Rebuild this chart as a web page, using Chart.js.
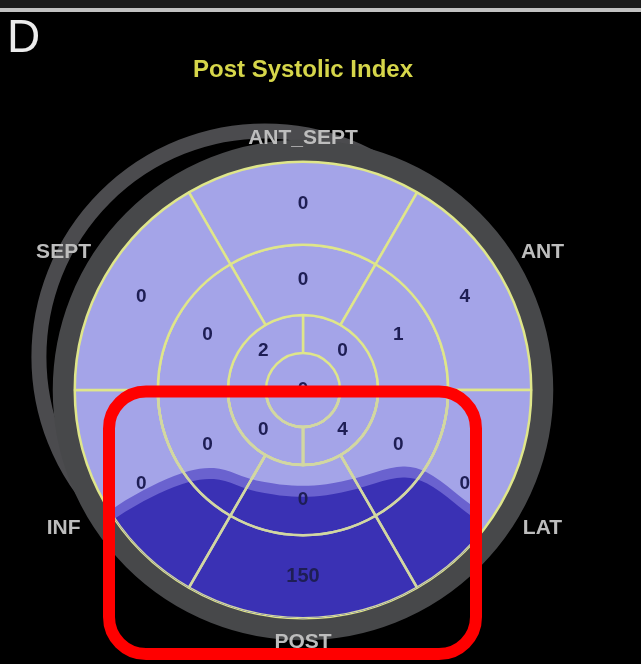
<!DOCTYPE html>
<html>
<head>
<meta charset="utf-8">
<script src="https://cdn.jsdelivr.net/npm/chart.js@4.4.0/dist/chart.umd.min.js"></script>
<style>
  html, body { margin: 0; padding: 0; background: #000; }
</style>
</head>
<body>
<canvas id="bullseye" width="641" height="664"></canvas>
<script>
// wall names, clockwise from 12 o'clock
const wallLabels = ['ANT_SEPT', 'ANT', 'LAT', 'POST', 'INF', 'SEPT'];
// post systolic index per segment
const basalValues = [0, 4, 0, 150, 0, 0];
const midValues = [0, 1, 0, 0, 0, 0];
const apicalValues = [0, 4, 0, 2];   // starts at 12 o'clock, clockwise
const apexValues = [0];

const LAVENDER = '#a4a4e8';
const DARK_BLUE = '#3a31b4';
const MID_BLUE = '#6a62cf';
const GRID = '#dfe68a';
const FONT = "'Liberation Sans', Arial, sans-serif";

function segColor(v) {
  return v >= 100 ? DARK_BLUE : LAVENDER;
}

function ring(values, weight, rotation, border) {
  return {
    data: values.map(() => 1),   // equal sectors
    values: values,
    weight: weight,
    rotation: rotation,
    backgroundColor: values.map(segColor),
    borderColor: GRID,
    borderWidth: border
  };
}

// smoothed colour-map contour around the POST wall (px at radius 228)
const shadeEdge = [[-250, 160], [-190, 118], [-160, 100], [-128, 85], [-100, 77], [-78, 79],
  [-55, 89], [-22, 95], [0, 96], [22, 95], [55, 88], [88, 77], [112, 76], [136, 89],
  [168, 116], [250, 170]];

function roundRect(ctx, x, y, w, h, r) {
  ctx.beginPath();
  ctx.moveTo(x + r, y);
  ctx.arcTo(x + w, y, x + w, y + h, r);
  ctx.arcTo(x + w, y + h, x, y + h, r);
  ctx.arcTo(x, y + h, x, y, r);
  ctx.arcTo(x, y, x + w, y, r);
  ctx.closePath();
}

function shadePath(ctx, cx, cy, k, drop) {
  ctx.beginPath();
  const p = shadeEdge.map(([dx, dy]) => [cx + dx * k, cy + dy * k + drop]);
  ctx.moveTo(p[0][0], p[0][1]);
  for (let i = 1; i < p.length - 1; i++) {
    const mx = (p[i][0] + p[i + 1][0]) / 2, my = (p[i][1] + p[i + 1][1]) / 2;
    ctx.quadraticCurveTo(p[i][0], p[i][1], mx, my);
  }
  const last = p[p.length - 1];
  ctx.lineTo(last[0], last[1]);
  ctx.lineTo(last[0], cy + 400);
  ctx.lineTo(p[0][0], cy + 400);
  ctx.closePath();
}

const bullseyePlugin = {
  id: 'bullseye',
  beforeDraw(chart) {
    const ctx = chart.ctx;
    ctx.save();
    ctx.fillStyle = '#000';
    ctx.fillRect(0, 0, chart.width, chart.height);
    ctx.fillStyle = '#1b1b1b';
    ctx.fillRect(0, 0, chart.width, 8);
    ctx.fillStyle = '#c2c2c2';
    ctx.fillRect(0, 8, chart.width, 4);
    ctx.fillStyle = '#ececec';
    ctx.font = '46px ' + FONT;
    ctx.textBaseline = 'alphabetic';
    ctx.fillText('D', 7, 52);
    ctx.restore();
  },
  beforeDatasetsDraw(chart) {
    const ctx = chart.ctx;
    const a = chart.getDatasetMeta(0).data[0];
    const {x, y, outerRadius: R} = a;
    ctx.save();
    ctx.strokeStyle = '#4b4b4e';
    // displaced rim behind the plot
    ctx.lineWidth = 15;
    ctx.beginPath();
    ctx.arc(x - R * 0.167, y - R * 0.145, R * 0.99, 0, Math.PI * 2);
    ctx.stroke();
    // main rim
    ctx.strokeStyle = '#47484a';
    ctx.lineWidth = 22;
    ctx.beginPath();
    ctx.arc(x, y, R + 11, 0, Math.PI * 2);
    ctx.stroke();
    ctx.restore();
  },
  afterDatasetsDraw(chart) {
    const ctx = chart.ctx;
    const a = chart.getDatasetMeta(0).data[0];
    const {x: cx, y: cy, outerRadius: R} = a;
    const k = R / 228;

    // colour-map shading, limited to the plot and the marked box
    ctx.save();
    ctx.beginPath();
    ctx.arc(cx, cy, R, 0, Math.PI * 2);
    ctx.clip();
    roundRect(ctx, cx - 188 * k, cy + 7 * k, 356 * k, 252 * k, 31 * k);
    ctx.clip();
    ctx.fillStyle = MID_BLUE;
    shadePath(ctx, cx, cy, k, 0);
    ctx.fill();
    ctx.fillStyle = DARK_BLUE;
    shadePath(ctx, cx, cy, k, 11 * k);
    ctx.fill();

    // grid lines back on top of the shading
    ctx.strokeStyle = '#d2d7a2';
    ctx.lineWidth = 2.5;
    chart.data.datasets.forEach((ds, di) => {
      chart.getDatasetMeta(di).data.forEach(arc => {
        const {x, y, startAngle, endAngle, innerRadius, outerRadius} = arc;
        if (innerRadius <= 0) return;
        ctx.beginPath();
        ctx.arc(x, y, outerRadius, startAngle, endAngle);
        ctx.arc(x, y, innerRadius, endAngle, startAngle, true);
        ctx.closePath();
        ctx.stroke();
      });
    });
    ctx.restore();

    // segment values
    ctx.save();
    ctx.fillStyle = '#1e1e54';
    ctx.textAlign = 'center';
    ctx.textBaseline = 'middle';
    chart.data.datasets.forEach((ds, di) => {
      chart.getDatasetMeta(di).data.forEach((arc, i) => {
        const v = ds.values[i];
        let p = arc.getCenterPoint();
        if (arc.endAngle - arc.startAngle >= Math.PI * 2 - 1e-6) p = {x: arc.x, y: arc.y};
        ctx.font = 'bold ' + (v >= 100 ? 20 : 19) + 'px ' + FONT;
        ctx.fillText(String(v), p.x, p.y);
      });
    });
    ctx.restore();

    // wall names around the rim
    ctx.save();
    ctx.fillStyle = '#bdbdbd';
    ctx.font = 'bold 21px ' + FONT;
    ctx.textAlign = 'center';
    ctx.textBaseline = 'middle';
    chart.getDatasetMeta(0).data.forEach((arc, i) => {
      const ang = (arc.startAngle + arc.endAngle) / 2;
      const r = R + 24 + 28 * Math.abs(Math.cos(ang));
      ctx.fillText(chart.data.labels[i], cx + r * Math.cos(ang), cy + r * Math.sin(ang));
    });
    ctx.restore();
  },
  afterDraw(chart) {
    const ctx = chart.ctx;
    const a = chart.getDatasetMeta(0).data[0];
    const {x: cx, y: cy} = a;
    // red marker box
    ctx.save();
    ctx.strokeStyle = '#ff0000';
    ctx.lineWidth = 12;
    roundRect(ctx, cx - 194, cy + 1.5, 367, 262.5, 37);
    ctx.stroke();
    ctx.restore();
  }
};

new Chart(document.getElementById('bullseye'), {
  type: 'doughnut',
  data: {
    labels: wallLabels,
    datasets: [
      ring(basalValues, 83, -30, 2.5),
      ring(midValues, 70, -30, 2.5),
      ring(apicalValues, 38, 0, 2.5),
      ring(apexValues, 37, 0, 0)
    ]
  },
  options: {
    responsive: false,
    animation: false,
    cutout: 0,
    layout: { padding: { left: 73.5, right: 108.5, top: 0, bottom: 44.5 } },
    plugins: {
      legend: { display: false },
      tooltip: { enabled: false },
      title: {
        display: true,
        text: 'Post Systolic Index',
        color: '#d6d64a',
        font: { family: FONT, size: 24, weight: 'bold' },
        padding: { top: 56, bottom: 75.7 }
      }
    }
  },
  plugins: [bullseyePlugin]
});
</script>
</body>
</html>
